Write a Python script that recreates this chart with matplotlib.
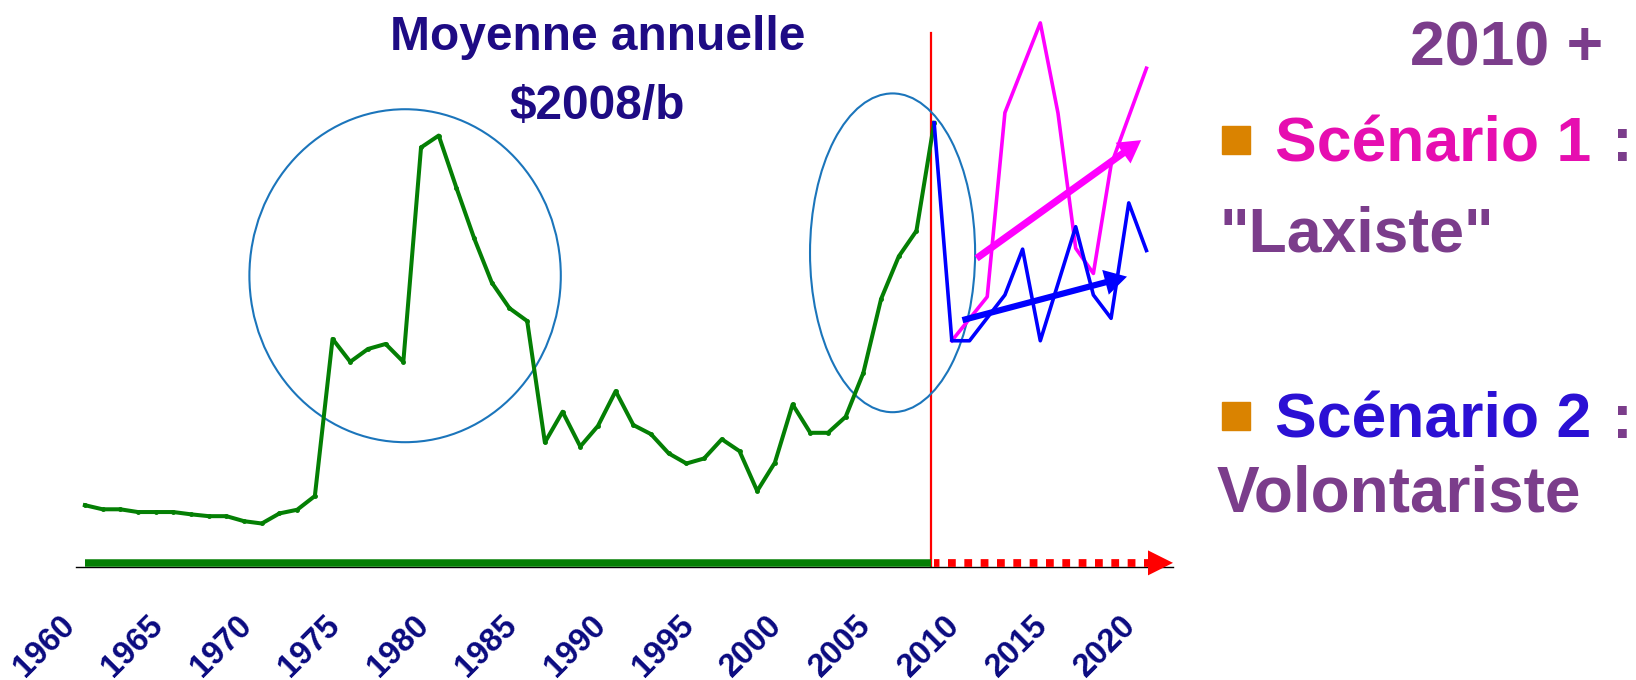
import numpy as np
import matplotlib
matplotlib.use("Agg")
import matplotlib.pyplot as plt
from matplotlib.patches import Ellipse, Rectangle
from matplotlib.transforms import ScaledTranslation

plt.rcParams['font.family'] = ['Liberation Sans', 'DejaVu Sans']

# historical annual average, $2008 per barrel
years = list(range(1960, 2009))
prix = [13.5, 12.6, 12.6, 12.0, 12.0, 12.0, 11.5, 11.1, 11.1, 10.0,
        9.5, 11.7, 12.5, 15.5, 49.8, 44.8, 47.6, 48.7, 44.8, 91.6,
        94.2, 82.8, 71.8, 62.1, 56.5, 53.7, 27.2, 33.9, 26.3, 30.8,
        38.4, 31.0, 29.0, 24.8, 22.6, 23.7, 27.9, 25.3, 16.6, 22.8,
        35.5, 29.3, 29.3, 32.8, 42.4, 58.5, 67.8, 73.4, 97.0]

# scenario 1 "laxiste"
years_s1 = [2009, 2011, 2012, 2014, 2015, 2016, 2017, 2018, 2020]
prix_s1 = [49.4, 59.0, 99.2, 118.8, 99.1, 69.6, 64.1, 87.8, 108.9]

# scenario 2 volontariste
years_s2 = [2008, 2009, 2010, 2012, 2013, 2014, 2016, 2017, 2018, 2019, 2020]
prix_s2 = [97.0, 49.4, 49.4, 59.4, 69.4, 49.4, 74.3, 59.4, 54.3, 79.5, 69.1]

# trend arrows (start, end)
trend_s1 = [(2010.4, 67.4), (2019.7, 93.2)]
trend_s2 = [(2009.6, 53.9), (2018.9, 63.4)]

tick_years = list(range(1960, 2021, 5))

W, H = 1636, 680
fig = plt.figure(figsize=(W / 100, H / 100), dpi=100)
ax = fig.add_axes([76 / W, (H - 567) / H, (1173 - 76) / W, 567 / H])
ax.set_xlim(1959.5, 2021.5)
ax.set_ylim(0, 123.8)

green = '#047F04'
ax.plot(years, prix, color=green, lw=2.9, marker='o', ms=2.5, zorder=4)
ax.plot(years_s1, prix_s1, color='#FF00FF', lw=2.6, zorder=3)
ax.plot(years_s2, prix_s2, color='#0000FF', lw=2.6, zorder=4)

# green bar along the axis up to now, red dotted future
ax.plot([1960, 2007.8], [0.9, 0.9], color=green, lw=5.4, solid_capstyle='butt', zorder=5)
ax.plot([2008.0, 2020.2], [0.9, 0.9], color='red', lw=5.6, ls=(0.3, (1, 1.1)),
        dash_capstyle='butt', zorder=5)
ax.annotate('', xy=(2021.5, 0.9), xytext=(2020.0, 0.9),
            arrowprops=dict(arrowstyle='-|>,head_length=1.0,head_width=0.5',
                            color='red', lw=0, mutation_scale=18,
                            shrinkA=0, shrinkB=0), zorder=6)
ax.axvline(2007.8, ymin=0, ymax=116.6 / 123.8, color='red', lw=1.6, zorder=2)

# circles round the two shocks
ax.add_patch(Ellipse((1978.1, 63.6), 17.6, 72.7, fill=False, ec='#1B75BB', lw=1.5, zorder=2))
ax.add_patch(Ellipse((2005.65, 68.6), 9.33, 69.6, fill=False, ec='#1B75BB', lw=1.5, zorder=2))

# trend arrows
for (p0, p1), col, tw in [(trend_s1, '#FF00FF', 0.32), (trend_s2, '#0000FF', 0.28)]:
    ax.annotate('', xy=p1, xytext=p0,
                arrowprops=dict(arrowstyle='simple,head_length=1.0,head_width=1.15,tail_width=%s' % tw,
                                fc=col, ec=col, lw=0, mutation_scale=16,
                                shrinkA=0, shrinkB=0), zorder=6)

for s in ['top', 'right', 'left']:
    ax.spines[s].set_visible(False)
ax.spines['bottom'].set_color('black')
ax.spines['bottom'].set_linewidth(1)
ax.set_yticks([])
ax.set_xticks(tick_years)
ax.tick_params(axis='x', length=0, pad=31)
ax.set_xticklabels([str(y) for y in tick_years], rotation=45, ha='right', va='top')
off = ScaledTranslation(-4 / 100, 0, fig.dpi_scale_trans)
for lab in ax.get_xticklabels():
    lab.set_fontsize(23.5)
    lab.set_fontweight('bold')
    lab.set_color('#0A0A80')
    lab.set_transform(lab.get_transform() + off)

# title
title_col = '#1E0B84'
fig.text(597.5 / W, (H - 50) / H, 'Moyenne annuelle', ha='center', va='baseline',
         fontsize=34.5, fontweight='bold', color=title_col)
fig.text(597.5 / W, (H - 119) / H, '$2008/b', ha='center', va='baseline',
         fontsize=34.5, fontweight='bold', color=title_col)

# right-hand legend text
purple = '#7B3D8B'
fs = 45
fig.text(1603 / W, (H - 65.7) / H, '2010 +', ha='right', va='baseline',
         fontsize=fs, fontweight='bold', color=purple)
fig.add_artist(Rectangle((1222 / W, (H - 154) / H), 28 / W, 28 / H,
                         transform=fig.transFigure, color='#DA8300'))
fig.text(1275 / W, (H - 161) / H, 'Scénario 1', ha='left', va='baseline',
         fontsize=fs, fontweight='bold', color='#E60EB0')
fig.text(1612 / W, (H - 161) / H, ':', ha='left', va='baseline',
         fontsize=fs, fontweight='bold', color=purple)
fig.text(1220 / W, (H - 252) / H, '"Laxiste"', ha='left', va='baseline',
         fontsize=fs, fontweight='bold', color=purple)
fig.add_artist(Rectangle((1222 / W, (H - 430) / H), 28 / W, 28 / H,
                         transform=fig.transFigure, color='#DA8300'))
fig.text(1275 / W, (H - 438) / H, 'Scénario 2', ha='left', va='baseline',
         fontsize=fs, fontweight='bold', color='#2B10D4')
fig.text(1612 / W, (H - 438) / H, ':', ha='left', va='baseline',
         fontsize=fs, fontweight='bold', color=purple)
fig.text(1217 / W, (H - 511) / H, 'Volontariste', ha='left', va='baseline',
         fontsize=46, fontweight='bold', color=purple)

fig.savefig('out.png', dpi=100)
